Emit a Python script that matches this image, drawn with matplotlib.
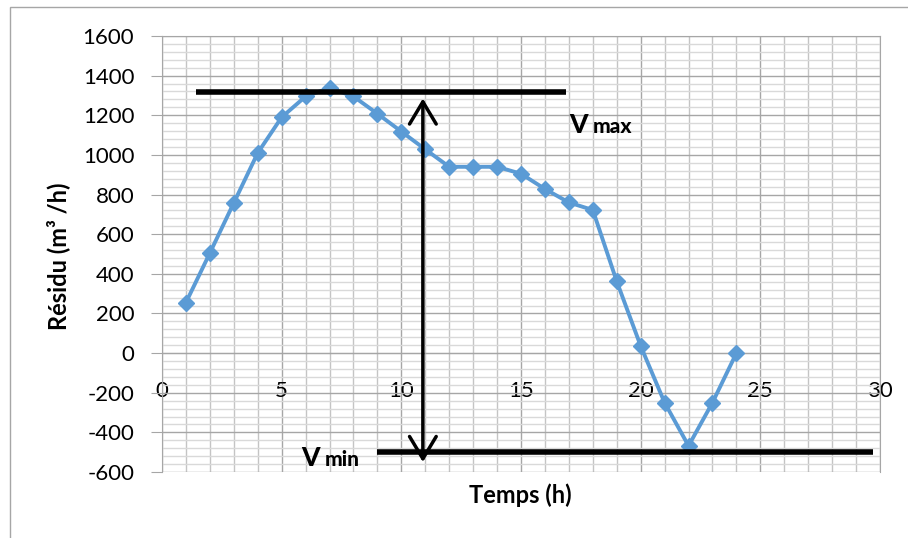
import matplotlib
matplotlib.use("Agg")
import matplotlib.pyplot as plt
from matplotlib.ticker import MultipleLocator
from matplotlib.patches import Rectangle

hours = list(range(1, 25))
residu = [255, 505, 758, 1010, 1190, 1295, 1338, 1295, 1208, 1118, 1028, 940,
          940, 940, 905, 828, 760, 722, 362, 36, -250, -468, -250, 0]

vmax_level = 1315
vmax_span = (1.4, 16.9)
vmin_level = -500
vmin_span = (9.0, 29.7)
arrow_x = 10.9
arrow_span = (1285, -550)

plt.rcParams['font.family'] = ['Lato', 'DejaVu Sans']
plt.rcParams['axes.unicode_minus'] = False

fig = plt.figure(figsize=(9.08, 5.38), dpi=100)
# outer chart border
fig.patches.append(Rectangle((10/908, -0.01), 1.0, 1 - 7/538 + 0.01, transform=fig.transFigure,
                             fill=False, edgecolor='#a6a6a6', linewidth=1.0))
ax = fig.add_axes([162/908, 1 - 472/538, (880 - 162)/908, (472 - 36)/538])

ax.set_xlim(0, 30)
ax.set_ylim(-600, 1600)
ax.xaxis.set_major_locator(MultipleLocator(5))
ax.xaxis.set_minor_locator(MultipleLocator(1))
ax.yaxis.set_major_locator(MultipleLocator(200))
ax.yaxis.set_minor_locator(MultipleLocator(40))

ax.grid(which='major', axis='y', color='#a6a6a6', linewidth=1.0)
ax.grid(which='minor', axis='y', color='#d9d9d9', linewidth=1.0)
ax.grid(which='major', axis='x', color='#a6a6a6', linewidth=1.0)
ax.grid(which='minor', axis='x', color='#c4c4c4', linewidth=1.0)
ax.set_axisbelow(True)

for s in ['top', 'right', 'left']:
    ax.spines[s].set_color('#a6a6a6')
ax.spines['bottom'].set_position(('data', 0))
ax.spines['bottom'].set_color('#a6a6a6')

ax.tick_params(axis='y', which='major', length=8, color='#a6a6a6', labelsize=16, pad=12)
ax.tick_params(axis='y', which='minor', length=0)
ax.tick_params(axis='x', which='both', length=0, labelsize=16, pad=20)

ax.plot(hours, residu, color='#5b9bd5', linewidth=2.8, marker='D', markersize=8,
        markerfacecolor='#5b9bd5', markeredgecolor='#5b9bd5', zorder=3)

ax.plot(vmax_span, [vmax_level, vmax_level], color='black', linewidth=4, zorder=4,
        solid_capstyle='butt')
ax.plot(vmin_span, [vmin_level, vmin_level], color='black', linewidth=4, zorder=4,
        solid_capstyle='butt')
ax.annotate('', xy=(arrow_x, arrow_span[0]), xytext=(arrow_x, arrow_span[1]),
            arrowprops=dict(arrowstyle='<->,head_length=0.5,head_width=0.3', color='black',
                            linewidth=2.5, mutation_scale=32, shrinkA=0, shrinkB=0), zorder=5)

ax.text(17.0, 1110, 'V', fontsize=19, fontweight='black', ha='left', va='baseline')
ax.text(18.0, 1110, 'max', fontsize=15, fontweight='black', ha='left', va='baseline')
ax.text(5.8, -570, 'V', fontsize=19, fontweight='black', ha='left', va='baseline')
ax.text(6.8, -570, 'min', fontsize=15, fontweight='black', ha='left', va='baseline')

ax.set_xlabel('Temps (h)', fontsize=17, fontweight='bold', labelpad=0)
ax.xaxis.set_label_coords((520 - 162)/718, -(483 - 472)/436)
ax.set_ylabel('Résidu (m³ /h)', fontsize=17, fontweight='bold')
ax.yaxis.set_label_coords(-(162 - 70)/718, (472 - 256)/436)

fig.savefig('out.png', dpi=100)
